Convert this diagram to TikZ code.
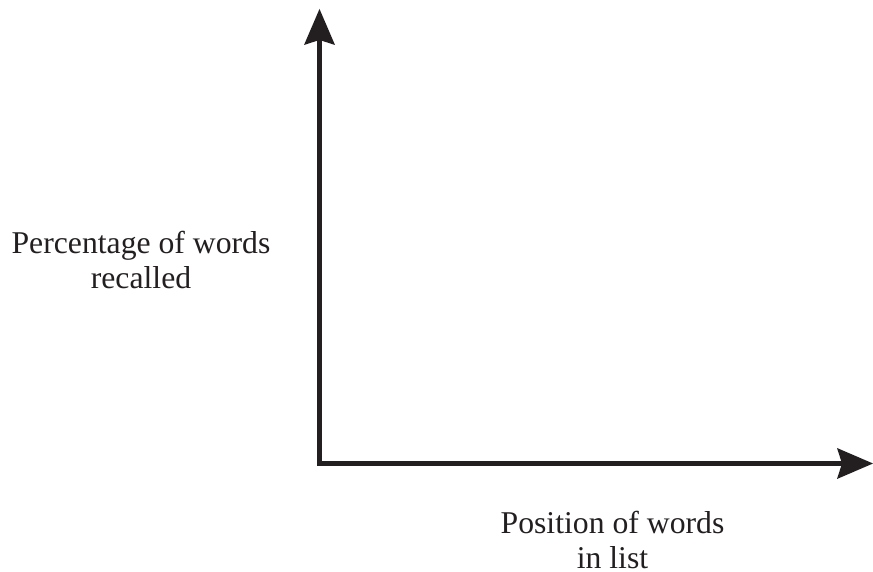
\documentclass[tikz,border=0pt]{standalone}
\usepackage{fontspec}
\setmainfont{Liberation Serif}
\usetikzlibrary{arrows.meta}
\definecolor{inkblack}{HTML}{231F20}
\begin{document}
\begin{tikzpicture}[x=1pt, y=1pt,
  axis/.style={draw=inkblack, line width=5pt, line join=miter,
    {Stealth[length=36pt, width=31pt, inset=5pt, line width=0pt]}-{Stealth[length=36pt, width=31pt, inset=5pt, line width=0pt]}},
  lab/.style={text=inkblack, align=center, inner sep=0pt,
    font=\fontsize{31.7}{35}\selectfont}]
\useasboundingbox (0,0) rectangle (873,572);
\coordinate (o) at (319.5,108.5);
\coordinate (ytip) at (319.5,563);
\coordinate (xtip) at (873,108.5);
\node [lab] (ylab) at (141,312.3) {Percentage of words\\recalled};
\node [lab] (xlab) at (612.5,32.3) {Position of words\\in list};
\draw [axis] (ytip) -- (o) -- (xtip);
\end{tikzpicture}
\end{document}
